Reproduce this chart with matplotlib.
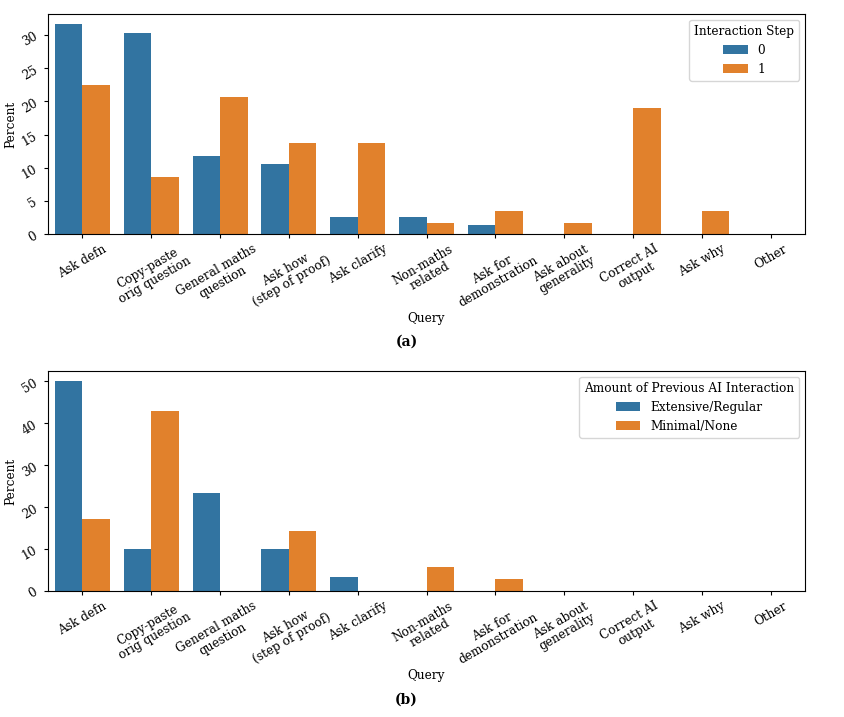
import matplotlib
matplotlib.use("Agg")
import matplotlib.pyplot as plt
import numpy as np

# the reference looks like a figure drawn larger and then shrunk, so scale things down a bit
s = 0.87
plt.rcParams['font.family'] = ['DejaVu Serif']
plt.rcParams['font.size'] = 10 * s
plt.rcParams['xtick.major.size'] = 3.5 * s
plt.rcParams['ytick.major.size'] = 3.5 * s
plt.rcParams['xtick.major.pad'] = 3.5 * s
plt.rcParams['ytick.major.pad'] = 3.5 * s

# Query categories (x axis)
queries = [
    "Ask defn", "Copy-paste\norig question", "General maths\nquestion",
    "Ask how\n(step of proof)", "Ask clarify", "Non-maths\nrelated",
    "Ask for\ndemonstration", "Ask about\ngenerality", "Correct AI\noutput",
    "Ask why", "Other",
]

# (a) percent by interaction step
step_labels = ["0", "1"]
step0 = [31.6, 30.3, 11.8, 10.5, 2.6, 2.6, 1.3, 0, 0, 0, 0]
step1 = [22.4, 8.6, 20.7, 13.8, 13.8, 1.7, 3.4, 1.7, 19.0, 3.4, 0]

# (b) percent by amount of previous AI interaction
prior_labels = ["Extensive/Regular", "Minimal/None"]
extensive = [50.0, 10.0, 23.3, 10.0, 3.3, 0, 0, 0, 0, 0, 0]
minimal = [17.1, 42.9, 0, 14.3, 0, 5.7, 2.9, 0, 0, 0, 0]

colors = ["#3274a1", "#e1812c"]


def grouped_bars(ax, series, labels, legend_title):
    x = np.arange(len(queries))
    w = 0.4
    for i, (vals, lab) in enumerate(zip(series, labels)):
        ax.bar(x + (i - 0.5) * w, vals, width=w, color=colors[i], label=lab)
    ax.set_xlim(-0.5, len(queries) - 0.5)
    ax.set_xticks(x)
    ax.set_xticklabels(queries, rotation=30, ha="center", linespacing=1.0)
    ax.tick_params(axis="y", labelrotation=30)
    ax.set_xlabel("Query", labelpad=1)
    ax.set_ylabel("Percent", labelpad=2)
    ax.legend(title=legend_title, loc="upper right")


fig = plt.figure(figsize=(8.45, 7.17), dpi=100)
ax1 = fig.add_axes([0.0568, 0.6736, 0.8959, 0.3069])
ax2 = fig.add_axes([0.0568, 0.1757, 0.8959, 0.3069])

grouped_bars(ax1, [step0, step1], step_labels, "Interaction Step")
grouped_bars(ax2, [extensive, minimal], prior_labels,
             "Amount of Previous AI Interaction")

fig.text(0.481, 1 - 342 / 717, "(a)", ha="center", va="center",
         fontweight="bold", fontsize=10)
fig.text(0.481, 1 - 700 / 717, "(b)", ha="center", va="center",
         fontweight="bold", fontsize=10)

fig.savefig("out.png", dpi=100)
